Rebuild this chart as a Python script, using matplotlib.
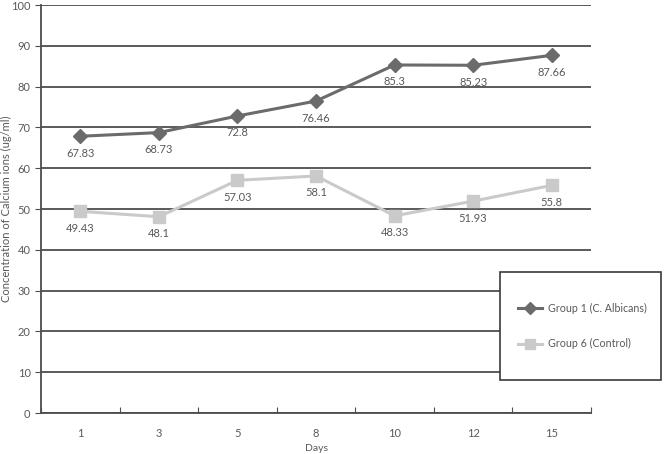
import matplotlib.pyplot as plt
from matplotlib.patches import Rectangle

days = ['1', '3', '5', '8', '10', '12', '15']
group1 = [67.83, 68.73, 72.8, 76.46, 85.3, 85.23, 87.66]
group6 = [49.43, 48.1, 57.03, 58.1, 48.33, 51.93, 55.8]
yticks = [0, 10, 20, 30, 40, 50, 60, 70, 80, 90, 100]

plt.rcParams['font.family'] = ['Lato', 'DejaVu Sans']
txt = '#595959'

fig = plt.figure(figsize=(6.66, 4.54), dpi=100)
ax = fig.add_axes([41 / 666, 41 / 454, 550 / 666, 408 / 454])

x = list(range(len(days)))
ax.plot(x, group1, color='#6b6b6b', lw=2.2, marker='D', ms=7,
        label='Group 1 (C. Albicans)', zorder=3)
ax.plot(x, group6, color='#cacaca', lw=2.2, marker='s', ms=8.5,
        label='Group 6 (Control)', zorder=3)

# value labels below each point
for xs, ys in ((x, group1), (x, group6)):
    for xi, yi in zip(xs, ys):
        ax.annotate(f'{yi:g}', (xi, yi), xytext=(0, -17), textcoords='offset pixels',
                    ha='center', va='center', fontsize=8, color=txt)

ax.set_ylim(0, 100)
ax.set_xlim(-0.5, 6.5)
ax.set_yticks(yticks)
ax.yaxis.grid(True, color='#4d4d4d', lw=1.3)
ax.set_axisbelow(True)

ax.set_xticks([i - 0.5 for i in range(len(days) + 1)])
ax.set_xticklabels([])
ax.set_xticks(x, minor=True)
ax.set_xticklabels(days, minor=True)
ax.tick_params(axis='x', which='minor', length=0, pad=11, labelsize=8, labelcolor=txt)
ax.tick_params(axis='x', which='major', length=4, color='#4d4d4d', direction='in')
ax.tick_params(axis='y', length=4, color='#4d4d4d', labelsize=8, labelcolor=txt)

for s in ['top', 'right']:
    ax.spines[s].set_visible(False)
ax.spines['left'].set_color('#4d4d4d')
ax.spines['bottom'].set_color('#4d4d4d')
ax.spines['left'].set_linewidth(1.3)
ax.spines['bottom'].set_linewidth(1.3)

ax.set_xlabel('Days', fontsize=7.5, color=txt)
ax.xaxis.set_label_coords(0.5, -31 / 408)
ax.set_ylabel('Concentration of Calcium ions (ug/ml)', fontsize=8, color=txt)
ax.yaxis.set_label_coords(-29 / 550, 0.5)

# legend box
fig.patches.append(Rectangle((500 / 666, 1 - 380 / 454), 161 / 666, 108 / 454,
                             transform=fig.transFigure, facecolor='white',
                             edgecolor='#3a3a3a', lw=1.2, zorder=5))
leg = fig.legend(loc='center left', bbox_to_anchor=(514 / 666, 1 - 326 / 454),
                 frameon=False, fontsize=7.7, labelspacing=2.3, handlelength=2.2,
                 handletextpad=0.6, borderaxespad=0, markerscale=0.85)
leg.set_zorder(6)
for t in leg.get_texts():
    t.set_color(txt)

fig.savefig('out.png', dpi=100)
